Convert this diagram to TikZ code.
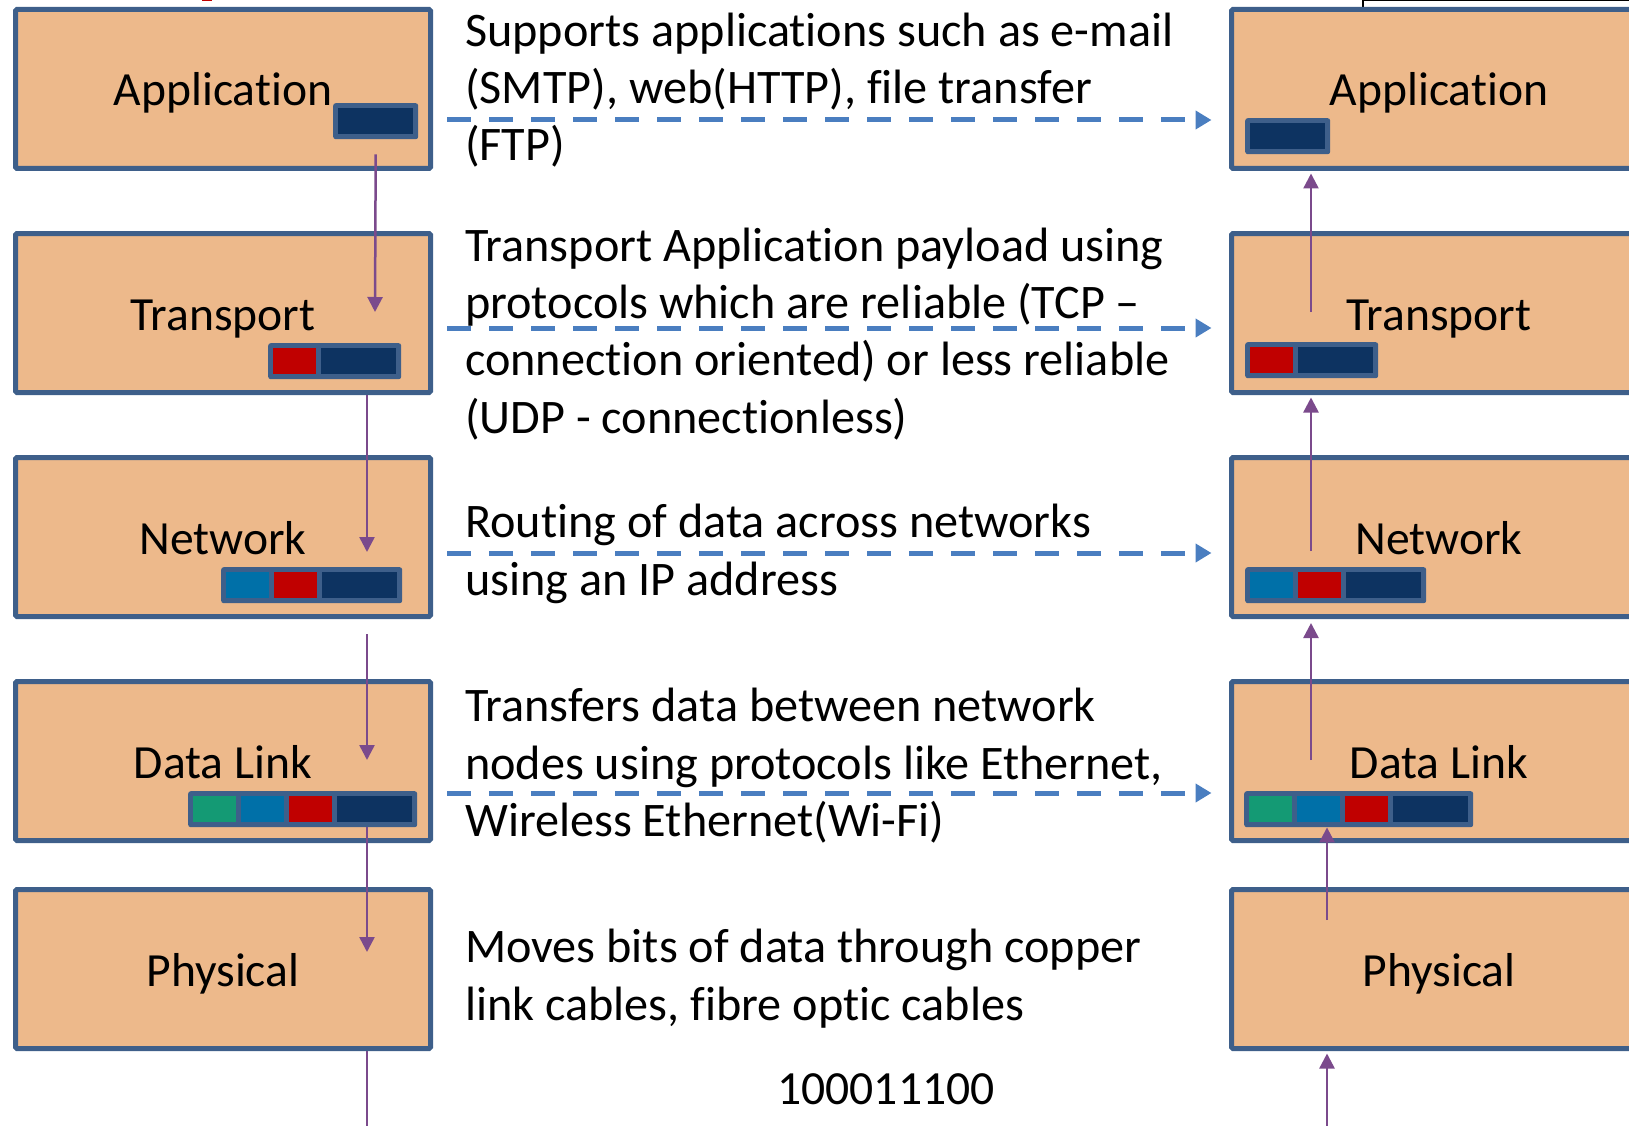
\documentclass[tikz,border=0pt]{standalone}
\usepackage{fontspec}
\setmainfont{Carlito}[Ligatures={NoCommon}]
\usetikzlibrary{arrows.meta,calc}

\definecolor{boxfill}{RGB}{237,185,139}
\definecolor{boxline}{RGB}{62,95,138}
\definecolor{navy}{RGB}{13,51,97}
\definecolor{pred}{RGB}{192,0,0}
\definecolor{pblue}{RGB}{0,112,168}
\definecolor{pgreen}{RGB}{20,154,116}
\definecolor{flowpurple}{RGB}{123,74,140}
\definecolor{dashblue}{RGB}{74,126,192}

\begin{document}
\begin{tikzpicture}[x=1pt,y=-1pt,
 layer/.style={draw=boxline, fill=boxfill, line width=5pt, rounded corners=1.5pt,
   minimum width=415pt, minimum height=159pt, inner sep=0pt},
 lbl/.style={font=\fontsize{47.6}{57}\selectfont, inner sep=0pt, anchor=base},
 desc/.style={font=\fontsize{48.2}{57}\selectfont, inner sep=0pt, anchor=base west},
 bar/.style={fill=boxline, rounded corners=2.5pt, minimum height=36pt, inner sep=0pt, anchor=north west},
 seg/.style={inner sep=0pt, minimum height=26pt, minimum width=43pt, anchor=north west},
 navyseg/.style={seg, fill=navy, minimum width=75pt},
 flow/.style={draw=flowpurple, line width=2.5pt, -{Triangle[length=15pt,width=15pt]}},
 flowline/.style={draw=flowpurple, line width=2.5pt},
 peer/.style={draw=dashblue, line width=5pt, dash pattern=on 24pt off 18pt,
   shorten <=14pt, shorten >=17.5pt, -{Triangle[length=16pt,width=18pt]}}
]
\useasboundingbox (0,0) rectangle (1629,1126);
\clip (0,0) rectangle (1629,1126);

% fragments at the top edge
\fill[pred] (202,0) rectangle (212,1.5);
\draw[black, line width=1.5pt] (1363,7) -- (1363,0.75) -- (1629,0.75);

% left stack
\node[layer] (apL) at (223,89)  {};
\node[layer] (trL) at (223,313) {};
\node[layer] (nwL) at (223,537) {};
\node[layer] (dlL) at (223,761) {};
\node[layer] (phL) at (223,969) {};
% right stack
\node[layer] (apR) at (1439,89)  {};
\node[layer] (trR) at (1439,313) {};
\node[layer] (nwR) at (1439,537) {};
\node[layer] (dlR) at (1439,761) {};
\node[layer] (phR) at (1439,969) {};

% labels
\node[lbl] (tapL) at (223,106) {Application};
\node[lbl] (ttrL) at (223,330) {Transport};
\node[lbl] (tnwL) at (223,554) {Network};
\node[lbl] (tdlL) at (223,778) {Data Link};
\node[lbl] (tphL) at (223,986) {Physical};
\node[lbl] (tapR) at (1439,106) {Application};
\node[lbl] (ttrR) at (1439,330) {Transport};
\node[lbl] (tnwR) at (1439,554) {Network};
\node[lbl] (tdlR) at (1439,778) {Data Link};
\node[lbl] (tphR) at (1439,986) {Physical};

% packet bars, left
\node[bar, minimum width=85pt] (bAL) at (333,103) {};
\node[navyseg] (bAL1) at (338,108) {};
\node[bar, minimum width=133pt] (bTL) at (268,343) {};
\node[seg, fill=pred] (bTL1) at (273,348) {};
\node[navyseg] (bTL2) at (321,348) {};
\node[bar, minimum width=181pt] (bNL) at (221,567) {};
\node[seg, fill=pblue] (bNL1) at (226,572) {};
\node[seg, fill=pred] (bNL2) at (274,572) {};
\node[navyseg] (bNL3) at (322,572) {};
\node[bar, minimum width=229pt] (bDL) at (188,791) {};
\node[seg, fill=pgreen] (bDL1) at (193,796) {};
\node[seg, fill=pblue] (bDL2) at (241,796) {};
\node[seg, fill=pred] (bDL3) at (289,796) {};
\node[navyseg] (bDL4) at (337,796) {};

% packet bars, right
\node[bar, minimum width=85pt] (bAR) at (1245,118) {};
\node[navyseg] (bAR1) at (1250,123) {};
\node[bar, minimum width=133pt] (bTR) at (1245,342) {};
\node[seg, fill=pred] (bTR1) at (1250,347) {};
\node[navyseg] (bTR2) at (1298,347) {};
\node[bar, minimum width=181pt] (bNR) at (1245,567) {};
\node[seg, fill=pblue] (bNR1) at (1250,572) {};
\node[seg, fill=pred] (bNR2) at (1298,572) {};
\node[navyseg] (bNR3) at (1346,572) {};
\node[bar, minimum width=229pt] (bDR) at (1244,791) {};
\node[seg, fill=pgreen] (bDR1) at (1249,796) {};
\node[seg, fill=pblue] (bDR2) at (1297,796) {};
\node[seg, fill=pred] (bDR3) at (1345,796) {};
\node[navyseg] (bDR4) at (1393,796) {};

% descriptions
\node[desc] (d1a) at (465,47)  {Supports applications such as e-mail};
\node[desc] (d1b) at (465,104) {(SMTP), web(HTTP), file transfer};
\node[desc] (d1c) at (465,161) {(FTP)};
\node[desc] (d2a) at (465,261) {Transport Application payload using};
\node[desc] (d2b) at (465,318) {protocols which are reliable (TCP –};
\node[desc] (d2c) at (465,375) {connection oriented) or less reliable};
\node[desc] (d2d) at (465,433) {(UDP - connectionless)};
\node[desc] (d3a) at (465,537) {Routing of data across networks};
\node[desc] (d3b) at (465,595) {using an IP address};
\node[desc] (d4a) at (465,721) {Transfers data between network};
\node[desc] (d4b) at (465,779) {nodes using protocols like Ethernet,};
\node[desc] (d4c) at (465,836) {Wireless Ethernet(Wi-Fi)};
\node[desc] (d5a) at (465,962) {Moves bits of data through copper};
\node[desc] (d5b) at (465,1020) {link cables, fibre optic cables};
\node[lbl] (bits) at (886,1104) {100011100};

% peer (dashed) arrows
\draw[peer] ([yshift=-31pt]apL.east) -- ([yshift=-31pt]apR.west);
\draw[peer] ([yshift=-15pt]trL.east) -- ([yshift=-15pt]trR.west);
\draw[peer] ([yshift=-16pt]nwL.east) -- ([yshift=-16pt]nwR.west);
\draw[peer] ([yshift=-32pt]dlL.east) -- ([yshift=-32pt]dlR.west);

% downward flow, left
\coordinate (lb1) at (375,312);
\draw[flow] ([yshift=-15pt]bAL.south) -- (lb1);
\coordinate (lb2) at (367,552);
\draw[flow] (trL.south -| lb2) -- (lb2);
\coordinate (la3) at (367,634);
\coordinate (lb3) at (367,760);
\draw[flow] (la3) -- (lb3);
\coordinate (lb4) at (367,952);
\draw[flow] (bDL.south -| lb4) -- (lb4);
\coordinate (lb5) at (367,1126);
\draw[flowline] (phL.south -| lb5) -- (lb5);

% upward flow, right
\coordinate (ra1) at (1327,1126);
\draw[flow] (ra1) -- ([yshift=-2.5pt]phR.south -| ra1);
\coordinate (ra2) at (1327,920);
\draw[flow] (ra2) -- (bDR.south -| ra2);
\coordinate (ra3) at (1311,760);
\coordinate (rb3) at (1311,623);
\draw[flow] (ra3) -- (rb3);
\coordinate (ra4) at (1311,551);
\draw[flow] (ra4) -- ([yshift=-2.5pt]trR.south -| ra4);
\coordinate (ra5) at (1311,312);
\draw[flow] (ra5) -- ([yshift=-2.5pt]apR.south -| ra5);
\end{tikzpicture}
\end{document}
